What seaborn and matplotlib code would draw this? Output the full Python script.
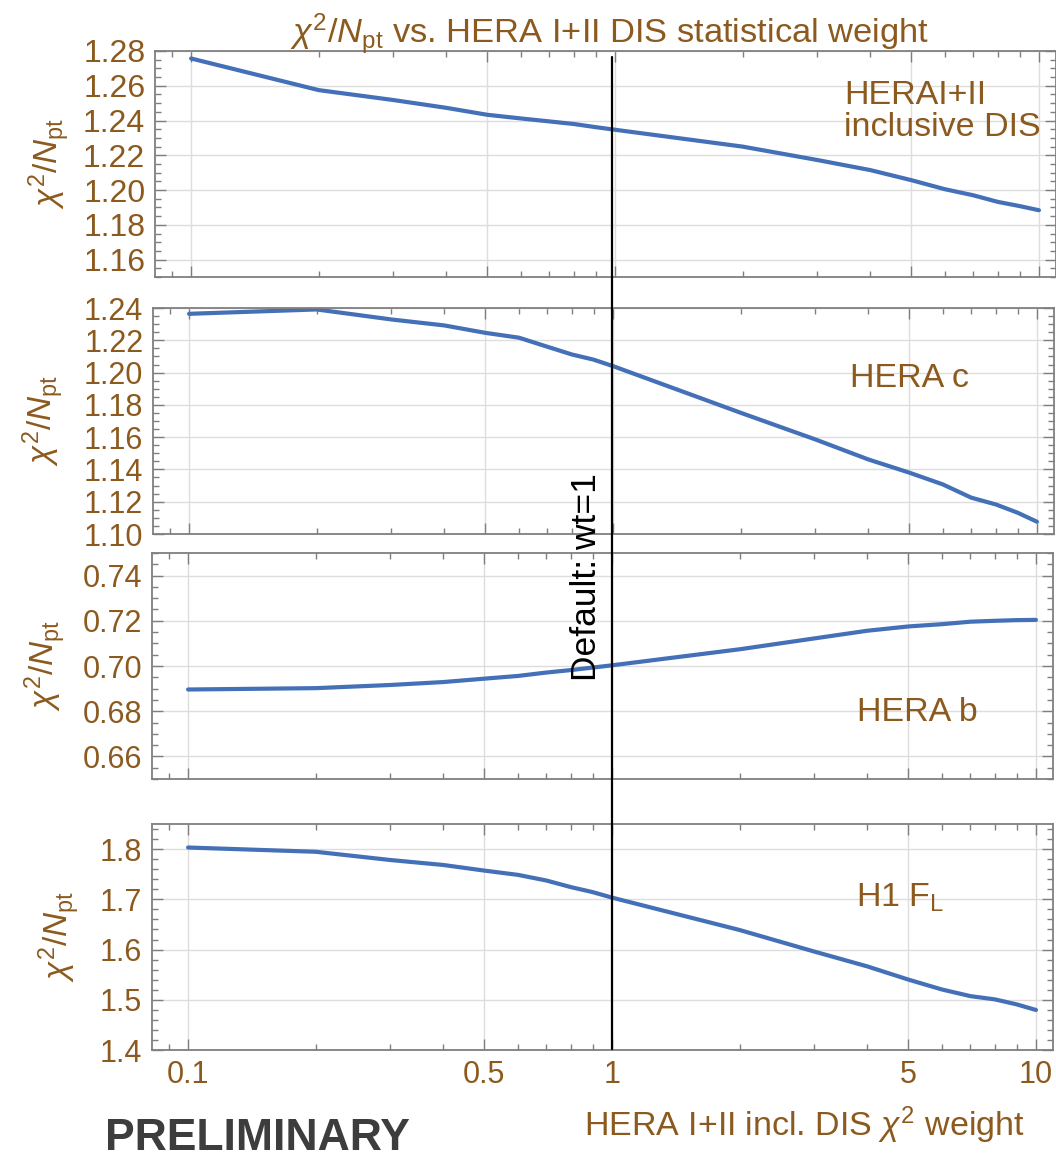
import matplotlib
matplotlib.use('Agg')
import matplotlib.pyplot as plt
import numpy as np
import pandas as pd
import seaborn as sns
from matplotlib.lines import Line2D
from matplotlib.ticker import AutoMinorLocator, FormatStrFormatter, LogLocator, NullFormatter

# HERA I+II inclusive DIS chi2 weight (x axis, shared by all panels)
WEIGHTS = [0.1, 0.2, 0.3, 0.4, 0.5, 0.6, 0.7, 0.8, 0.9, 1, 2, 3, 4, 5, 6, 7, 8, 9, 10]

# chi2/Npt per data set
CHI2_INCL = [1.2757, 1.2575, 1.2518, 1.2473, 1.2433, 1.2412, 1.2395, 1.2380, 1.2362, 1.2347,
             1.2250, 1.2173, 1.2115, 1.2057, 1.2005, 1.1970, 1.1932, 1.1908, 1.1884]
CHI2_C = [1.2364, 1.2391, 1.2329, 1.2292, 1.2246, 1.2216, 1.2160, 1.2112, 1.2080, 1.2040,
          1.1751, 1.1586, 1.1462, 1.1380, 1.1307, 1.1225, 1.1183, 1.1132, 1.1076]
CHI2_B = [0.6896, 0.6902, 0.6916, 0.6929, 0.6944, 0.6956, 0.6971, 0.6982, 0.6993, 0.7003,
          0.7074, 0.7122, 0.7156, 0.7175, 0.7185, 0.7196, 0.7200, 0.7203, 0.7204]
CHI2_FL = [1.8032, 1.7947, 1.7783, 1.7684, 1.7572, 1.7487, 1.7375, 1.7243, 1.7144, 1.7034,
           1.6389, 1.5960, 1.5665, 1.5402, 1.5205, 1.5073, 1.5008, 1.4909, 1.4797]

PANEL_NAMES = ['HERAI+II\ninclusive DIS', 'HERA c', 'HERA b', r'H1 F$_\mathrm{L}$']
Y_TICKS = [
    [1.16, 1.18, 1.20, 1.22, 1.24, 1.26, 1.28],
    [1.10, 1.12, 1.14, 1.16, 1.18, 1.20, 1.22, 1.24],
    [0.66, 0.68, 0.70, 0.72, 0.74],
    [1.4, 1.5, 1.6, 1.7, 1.8],
]
Y_FORMATS = ['%.2f', '%.2f', '%.2f', '%.1f']
X_TICKS = [0.1, 0.5, 1, 5, 10]
X_TICK_LABELS = ['0.1', '0.5', '1', '5', '10']

# layout, in pixels of the 1056x1161 canvas
W, H = 1056, 1161
PANEL_LEFT = [155, 153, 152, 152]
PANEL_TOP = [51, 308, 553, 824]
PANEL_W, PANEL_H = 901, 226
YLIMS = [(1.15, 1.28), (1.10, 1.24), (0.65, 0.75), (1.40, 1.85)]
MINOR_N = [4, 4, 4, 5]
NAME_POS = [(0.765, 0.87), (0.774, 0.69), (0.783, 0.296), (0.781, 0.675)]
NAME_VA = ['top', 'center', 'center', 'center']
YLABEL_RIGHT = [72, 66, 68, 82]

BROWN = '#8C5A1E'
BLUE = '#4470B8'
FRAME = '#7f7f7f'

sns.set_theme(style='ticks')
plt.rcParams['font.family'] = ['Liberation Sans', 'DejaVu Sans']
plt.rcParams['mathtext.fontset'] = 'custom'
plt.rcParams['mathtext.rm'] = 'Liberation Sans'
plt.rcParams['mathtext.it'] = 'Liberation Sans:italic'

series = [CHI2_INCL, CHI2_C, CHI2_B, CHI2_FL]
fig = plt.figure(figsize=(W / 100, H / 100), dpi=100)
axes = []
for i, values in enumerate(series):
    ax = fig.add_axes([PANEL_LEFT[i] / W, 1 - (PANEL_TOP[i] + PANEL_H) / H, PANEL_W / W, PANEL_H / H])
    df = pd.DataFrame({'weight': WEIGHTS, 'chi2': values})
    sns.lineplot(data=df, x='weight', y='chi2', ax=ax, color=BLUE, linewidth=3)
    ax.set_xscale('log')
    ax.set_xlim(0.0822, 10.97)
    ax.set_ylim(*YLIMS[i])

    ax.set_xticks(X_TICKS)
    ax.xaxis.set_minor_locator(LogLocator(base=10, subs=np.arange(2, 10)))
    ax.xaxis.set_minor_formatter(NullFormatter())
    if i == 3:
        ax.set_xticklabels(X_TICK_LABELS)
    else:
        ax.set_xticklabels([])
    ax.set_yticks(Y_TICKS[i])
    ax.yaxis.set_major_formatter(FormatStrFormatter(Y_FORMATS[i]))
    ax.yaxis.set_minor_locator(AutoMinorLocator(MINOR_N[i]))

    size = 23 if i == 0 else 22
    ax.tick_params(which='both', direction='in', top=True, right=True, color=FRAME,
                   labelcolor=BROWN, labelsize=size, width=1)
    ax.tick_params(which='major', length=8, pad=7)
    ax.tick_params(which='minor', length=4)
    ax.grid(True, which='major', color='#dddddd', linewidth=1)
    for sp in ax.spines.values():
        sp.set_color(FRAME)
        sp.set_linewidth(1.3)

    ax.set_xlabel('')
    ax.set_ylabel(r'$\chi^2/N_\mathrm{pt}$', color=BROWN, fontsize=24)
    ax.yaxis.set_label_coords((YLABEL_RIGHT[i] - PANEL_LEFT[i]) / PANEL_W, 0.5)

    ax.text(NAME_POS[i][0], NAME_POS[i][1], PANEL_NAMES[i], transform=ax.transAxes,
            color=BROWN, fontsize=24.5, ha='left', va=NAME_VA[i], linespacing=1.02)
    axes.append(ax)

# vertical marker at the default weight, running across all panels
fig.canvas.draw()
x_fig = fig.transFigure.inverted().transform(axes[3].transData.transform((1, 1.5)))[0]
fig.add_artist(Line2D([x_fig, x_fig], [1 - 57 / H, 1 - 1049 / H], color='black', linewidth=1.6,
                      transform=fig.transFigure))
fig.text(586 / W, 1 - 577 / H, 'Default: wt=1', rotation=90, ha='center', va='center',
         fontsize=25.5, color='black')

fig.text(610 / W, 1 - 44 / H, r'$\chi^2/N_\mathrm{pt}$ vs. HERA I+II DIS statistical weight',
         ha='center', va='baseline', color=BROWN, fontsize=24.8)
fig.text(1025 / W, 1 - 1125 / H, r'HERA I+II incl. DIS $\chi^2$ weight',
         ha='right', va='center', color=BROWN, fontsize=24.5)
fig.text(105 / W, 1 - 1150 / H, 'PRELIMINARY', ha='left', va='baseline',
         color='#3d3d3d', fontsize=32, fontweight='bold')

fig.savefig('out.png', dpi=100)
